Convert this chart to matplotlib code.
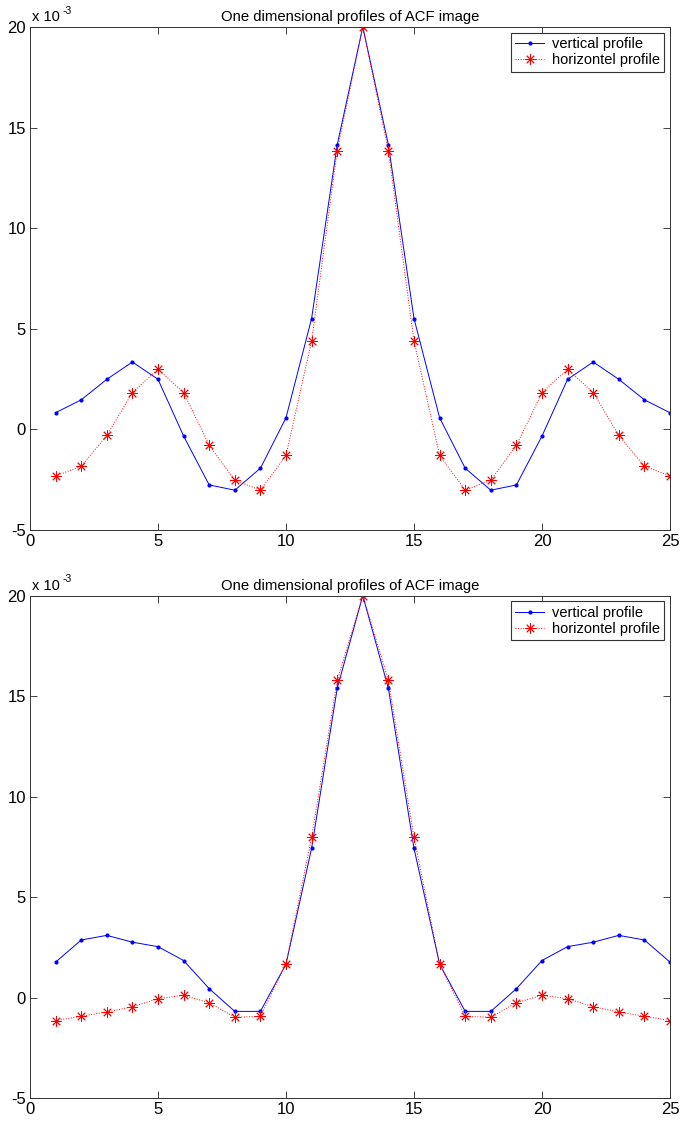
import matplotlib.pyplot as plt

plt.rcParams['font.family'] = ['Liberation Sans', 'DejaVu Sans']
plt.rcParams['axes.unicode_minus'] = False

x = list(range(1, 26))

# panel 1 (values in units of 1e-3)
vert1 = [0.83, 1.47, 2.49, 3.35, 2.49, -0.33, -2.76, -3.02, -1.93, 0.58, 5.51, 14.14, 20.0,
         14.14, 5.51, 0.58, -1.93, -3.02, -2.76, -0.33, 2.49, 3.35, 2.49, 1.47, 0.83]
horiz1 = [-2.31, -1.83, -0.30, 1.83, 2.99, 1.83, -0.79, -2.52, -3.02, -1.29, 4.39, 13.84, 20.0,
          13.84, 4.39, -1.29, -3.02, -2.52, -0.79, 1.83, 2.99, 1.83, -0.30, -1.83, -2.31]

# panel 2
vert2 = [1.77, 2.87, 3.10, 2.76, 2.54, 1.85, 0.45, -0.68, -0.68, 1.67, 7.43, 15.38, 20.0,
         15.38, 7.43, 1.67, -0.68, -0.68, 0.45, 1.85, 2.54, 2.76, 3.10, 2.87, 1.77]
horiz2 = [-1.14, -0.92, -0.71, -0.45, -0.05, 0.12, -0.25, -0.97, -0.93, 1.68, 7.97, 15.78, 20.0,
          15.78, 7.97, 1.68, -0.93, -0.97, -0.25, 0.12, -0.05, -0.45, -0.71, -0.92, -1.14]

xticks = [0, 5, 10, 15, 20, 25]
yticks = [-5, 0, 5, 10, 15, 20]
title = 'One dimensional profiles of ACF image'

fig = plt.figure(figsize=(6.85, 11.47), dpi=100)
ax1 = fig.add_axes([0.0438, 0.5379, 0.9343, 0.4386])
ax2 = fig.add_axes([0.0438, 0.0425, 0.9343, 0.4383])

for ax, v, h in [(ax1, vert1, horiz1), (ax2, vert2, horiz2)]:
    ax.plot(x, v, color='blue', linestyle='-', linewidth=0.7, marker='.',
            markersize=4, label='vertical profile')
    ax.plot(x, h, color='red', linestyle=':', linewidth=0.7, marker=(8, 2, 0),
            markersize=7.5, markeredgewidth=0.65, label='horizontel profile')
    ax.set_xlim(0, 25)
    ax.set_ylim(-5, 20)
    ax.set_xticks(xticks)
    ax.set_yticks(yticks)
    ax.tick_params(direction='in', top=True, right=True, length=5, width=0.6,
                   labelsize=12, pad=3, color='#222222')
    for s in ax.spines.values():
        s.set_linewidth(0.7)
        s.set_color('#333333')
    ax.set_title(title, fontsize=10.7, pad=4)
    ax.text(0.003, 1.006, 'x 10', transform=ax.transAxes, fontsize=10.5,
            ha='left', va='bottom')
    ax.text(0.051, 1.022, '-3', transform=ax.transAxes, fontsize=7.5,
            ha='left', va='bottom')
    leg = ax.legend(loc='upper right', fontsize=10.5, fancybox=False, framealpha=1,
                    edgecolor='#333333', borderpad=0.3, labelspacing=0.15,
                    handlelength=2.0, handletextpad=0.5, borderaxespad=0.4)
    leg.get_frame().set_linewidth(0.8)

fig.savefig('out.png', dpi=100)
